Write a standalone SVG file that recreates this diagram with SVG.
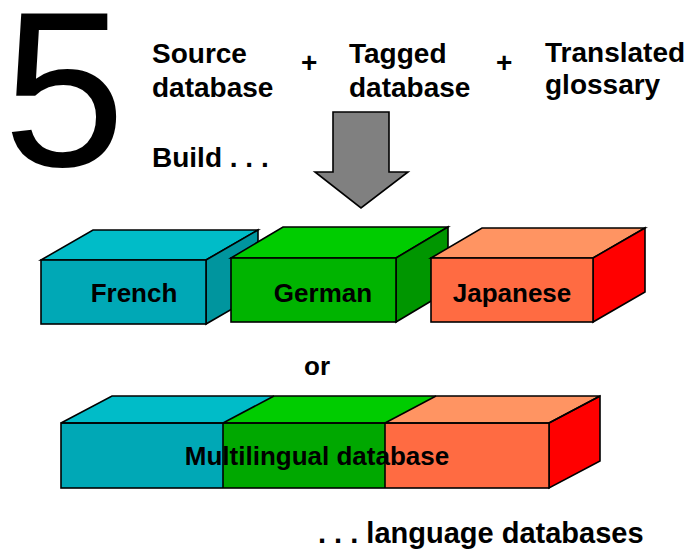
<svg xmlns="http://www.w3.org/2000/svg" width="697" height="550" viewBox="0 0 697 550">
<defs>
<style>
text{font-family:"Liberation Sans",Arial,Helvetica,sans-serif;fill:#000}
.t{font-size:28px;font-weight:bold}
.lbl{font-size:26px;font-weight:bold;text-anchor:middle}
.e{stroke:#000;stroke-width:1.6;stroke-linejoin:miter}
.cf{fill:#00A8B6}.ct{fill:#00BCC8}.cs{fill:#00959E}
.gf{fill:#00B400}.gt{fill:#00CC00}.gs{fill:#009600}
.of{fill:#FF6B42}.ot{fill:#FF9462}.os{fill:#FF0000}
</style>
</defs>
<rect width="697" height="550" fill="#fff"/>
<text x="3" y="166" style="font-size:220px;font-family:'Liberation Sans',Arial,sans-serif">5</text>
<g id="source">
<text class="t" x="152" y="63">Source</text>
<text class="t" x="152" y="97">database</text>
</g>
<text class="t" x="301" y="72">+</text>
<g id="tagged">
<text class="t" x="349" y="63">Tagged</text>
<text class="t" x="349" y="97">database</text>
</g>
<text class="t" x="496" y="72">+</text>
<g id="glossary">
<text class="t" x="545" y="62">Translated</text>
<text class="t" x="545" y="94">glossary</text>
</g>
<text class="t" x="152" y="167">Build . . .</text>
<g id="connectors">
<polygon class="e" fill="#808080" points="333,112 389,112 389,172 408,172 361,208 315,172 333,172"/>
</g>
<g id="french">
<polygon class="e ct" points="41,260 93,230 258,230 206,260"/>
<polygon class="e cs" points="206,260 258,230 258,294 206,324"/>
<rect class="e cf" x="41" y="260" width="165" height="64"/>
<text class="lbl" x="134" y="302">French</text>
</g>
<g id="german">
<polygon class="e gt" points="231,258 283,227 448,227 396,258"/>
<polygon class="e gs" points="396,258 448,227 448,291 396,322"/>
<rect class="e gf" x="231" y="258" width="165" height="64"/>
<text class="lbl" x="323" y="302">German</text>
</g>
<g id="japanese">
<polygon class="e ot" points="431,258 482,228 645,228 593,258"/>
<polygon class="e os" points="593,258 645,228 645,292 593,322"/>
<rect class="e of" x="431" y="258" width="162" height="64"/>
<text class="lbl" x="512" y="302">Japanese</text>
</g>
<text x="304" y="375" style="font-size:26px;font-weight:bold">or</text>
<g id="multilingual">
<polygon class="ct" points="61,423 112,396 274,396 223,423"/>
<polygon class="gt" points="223,423 274,396 436,396 385,423"/>
<polygon class="ot" points="385,423 436,396 600,396 549,423"/>
<polygon class="e os" points="549,423 600,396 600,461 549,488"/>
<rect class="cf" x="61" y="423" width="162" height="65"/>
<rect class="gf" x="223" y="423" width="162" height="65" style="fill:#00A800"/>
<rect class="of" x="385" y="423" width="164" height="65"/>
<polygon class="e" fill="none" points="61,423 112,396 600,396 549,423"/>
<line class="e" x1="223" y1="423" x2="274" y2="396"/>
<line class="e" x1="385" y1="423" x2="436" y2="396"/>
<rect class="e" fill="none" x="61" y="423" width="488" height="65"/>
<line class="e" x1="223" y1="423" x2="223" y2="488"/>
<line class="e" x1="385" y1="423" x2="385" y2="488"/>
<text class="lbl" x="317" y="465">Multilingual database</text>
</g>
<text x="318" y="543" style="font-size:29px;font-weight:bold">. . . language databases</text>
</svg>
